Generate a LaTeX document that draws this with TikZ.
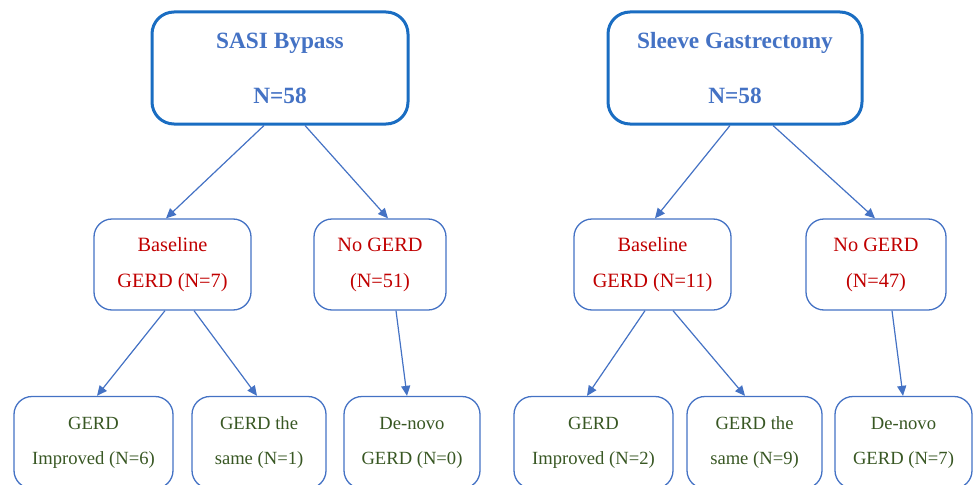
\documentclass[tikz,border=0pt]{standalone}
\usepackage{fontspec}
\setmainfont{Liberation Serif}
\usetikzlibrary{arrows.meta}
\definecolor{boxblue}{HTML}{4472C4}
\definecolor{topblue}{HTML}{1A6DC2}
\definecolor{basered}{HTML}{C00000}
\definecolor{outgreen}{HTML}{385723}

\begin{document}
\begin{tikzpicture}[x=1pt,y=-1pt,
    groupbox/.style={draw=topblue,line width=3pt,rounded corners=22pt,minimum width=#1,minimum height=112pt,
        inner sep=0pt,align=center,text=boxblue,font=\fontsize{23.3}{55}\selectfont\bfseries},
    basebox/.style={draw=boxblue,line width=1.3pt,rounded corners=18pt,minimum width=#1,minimum height=91pt,
        inner sep=0pt,align=center,text=basered,font=\fontsize{20.3}{36}\selectfont},
    outbox/.style={draw=boxblue,line width=1.3pt,rounded corners=18pt,minimum width=#1,minimum height=92pt,
        inner sep=0pt,align=center,text=outgreen,font=\fontsize{18.6}{35}\selectfont},
    link/.style={draw=boxblue,line width=1.2pt,-{Triangle[length=10pt,width=9pt]}}]
    \clip (0,0) rectangle (973,484);

    \node[groupbox=256pt] (sasi) at (280,68) {SASI Bypass\\N=58};
    \node[basebox=157pt] (sasibase) at (172.5,264.5) {Baseline\\GERD (N=7)};
    \node[basebox=132pt] (sasinone) at (380,264.5) {No GERD\\(N=51)};
    \node[outbox=159pt] (sasiimp) at (93.5,442.5) {GERD\\Improved (N=6)};
    \node[outbox=134pt] (sasisame) at (259,442.5) {GERD the\\same (N=1)};
    \node[outbox=136pt] (sasinew) at (412,442.5) {De-novo\\GERD (N=0)};

    \node[groupbox=254pt] (sleeve) at (735,68) {Sleeve Gastrectomy\\N=58};
    \node[basebox=157pt] (sleevebase) at (652.5,264.5) {Baseline\\GERD (N=11)};
    \node[basebox=140pt] (sleevenone) at (876,264.5) {No GERD\\(N=47)};
    \node[outbox=159pt] (sleeveimp) at (593.5,442.5) {GERD\\Improved (N=2)};
    \node[outbox=135pt] (sleevesame) at (754.5,442.5) {GERD the\\same (N=9)};
    \node[outbox=137pt] (sleevenew) at (903.5,442.5) {De-novo\\GERD (N=7)};

    \draw[link] ([xshift=-16pt]sasi.south) -- ([xshift=-6.5pt]sasibase.north);
    \draw[link] ([xshift=25pt]sasi.south) -- ([xshift=8pt]sasinone.north);
    \draw[link] ([xshift=-7.5pt]sasibase.south) -- ([xshift=3.5pt]sasiimp.north);
    \draw[link] ([xshift=21.5pt]sasibase.south) -- ([xshift=-2pt]sasisame.north);
    \draw[link] ([xshift=16pt]sasinone.south) -- ([xshift=-5pt]sasinew.north);

    \draw[link] ([xshift=-5pt]sleeve.south) -- ([xshift=2.5pt]sleevebase.north);
    \draw[link] ([xshift=38pt]sleeve.south) -- ([xshift=-1pt]sleevenone.north);
    \draw[link] ([xshift=-7.5pt]sleevebase.south) -- ([xshift=-6.5pt]sleeveimp.north);
    \draw[link] ([xshift=20.5pt]sleevebase.south) -- ([xshift=-9.5pt]sleevesame.north);
    \draw[link] ([xshift=16pt]sleevenone.south) -- ([xshift=-0.5pt]sleevenew.north);
\end{tikzpicture}
\end{document}
